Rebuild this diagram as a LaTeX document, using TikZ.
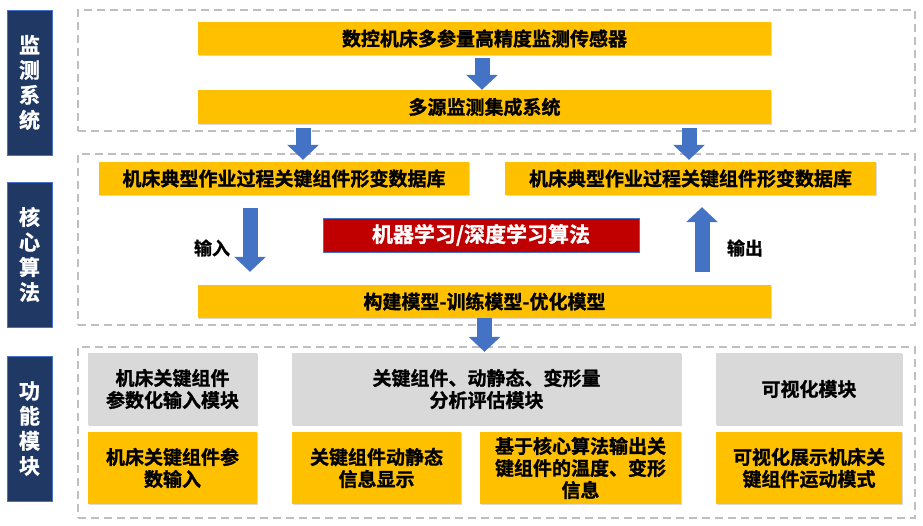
\documentclass[tikz,border=0pt]{standalone}
\usepackage{fontspec}
\setmainfont{Noto Sans CJK SC}[BoldFont={Noto Sans CJK SC Bold},BoldFeatures={FakeBold=1.2}]
\usetikzlibrary{arrows.meta,shadows}
\definecolor{ylw}{HTML}{FFC000}
\definecolor{gry}{HTML}{D9D9D9}
\definecolor{redb}{HTML}{C00000}
\definecolor{navy}{HTML}{203864}
\definecolor{blu}{HTML}{4472C4}
\definecolor{dashc}{HTML}{BFBFBF}
\tikzset{
  shad/.style={drop shadow={opacity=0.25,shadow xshift=1.2pt,shadow yshift=-1.2pt,fill=black!60}},
  ybox/.style={shad,fill=ylw,draw=none,inner sep=0pt,align=center,font=\fontsize{19}{22}\selectfont\bfseries},
  gbox/.style={shad,fill=gry,draw=none,inner sep=0pt,align=center,font=\fontsize{19}{22}\selectfont\bfseries},
  rbox/.style={fill=redb,draw=blu,line width=1pt,inner sep=0pt,text=white,font=\fontsize{21}{24}\selectfont\bfseries},
  bar/.style={fill=navy,draw=blu,line width=0.8pt,inner sep=0pt,text=white,align=center,minimum width=45pt,minimum height=145pt,font=\fontsize{21}{25}\selectfont\bfseries},
  group/.style={draw=dashc,line width=1.5pt,dash pattern=on 8pt off 5pt,inner sep=0pt},
  barrow/.style={draw=blu,line width=15pt,-{Triangle[length=15pt,width=31pt,fill=blu]}},
  lbl/.style={font=\fontsize{18}{20}\selectfont\bfseries,text=black,inner sep=0pt},
}
\begin{document}
\begin{tikzpicture}[x=1pt,y=-1pt]
\useasboundingbox (0,0) rectangle (923,525);
% groups
\node[group,minimum width=837pt,minimum height=121pt] (g1) at (496.5,70.5) {};
\node[group,minimum width=837pt,minimum height=171pt] (g2) at (496.5,239.5) {};
\node[group,minimum width=837pt,minimum height=171pt] (g3) at (496.5,432.5) {};
% side bars
\node[bar] (b1) at (29.5,82.5) {监\\测\\系\\统};
\node[bar] (b2) at (29.5,254.5) {核\\心\\算\\法};
\node[bar] (b3) at (29.5,428.5) {功\\能\\模\\块};
% monitoring
\node[ybox,minimum width=573pt,minimum height=33pt] (sensor) at (484.5,38.5) {数控机床多参量高精度监测传感器};
\node[ybox,minimum width=573pt,minimum height=34pt] (multi) at (484.5,107) {多源监测集成系统};
% core
\node[ybox,minimum width=370pt,minimum height=33pt] (dbl) at (284,178.5) {机床典型作业过程关键组件形变数据库};
\node[ybox,minimum width=371pt,minimum height=33pt] (dbr) at (690.5,178.5) {机床典型作业过程关键组件形变数据库};
\node[rbox,minimum width=316pt,minimum height=34pt] (ml) at (481,235) {机器学习/深度学习算法};
\node[ybox,minimum width=573pt,minimum height=33pt] (model) at (484.5,301.5) {构建模型-训练模型-优化模型};
\node[lbl] (in) at (212,248) {输入};
\node[lbl] (out) at (745,248) {输出};
% function modules
\node[gbox,minimum width=169pt,minimum height=72pt] (m1) at (172.5,389) {机床关键组件\\参数化输入模块};
\node[gbox,minimum width=389pt,minimum height=72pt] (m2) at (486.5,389) {关键组件、动静态、变形量\\分析评估模块};
\node[gbox,minimum width=186pt,minimum height=72pt] (m3) at (809,389) {可视化模块};
\node[ybox,minimum width=169pt,minimum height=72pt] (y1) at (172.5,468) {机床关键组件参\\数输入};
\node[ybox,minimum width=169pt,minimum height=72pt] (y2) at (376.5,468) {关键组件动静态\\信息显示};
\node[ybox,minimum width=201pt,minimum height=72pt] (y3) at (580.5,468) {基于核心算法输出关\\键组件的温度、变形\\信息};
\node[ybox,minimum width=186pt,minimum height=72pt] (y4) at (809,468) {可视化展示机床关\\键组件运动模式};
% arrows
\draw[barrow,shorten <=3pt,shorten >=0pt] ([xshift=-2.5pt]sensor.south) -- ([xshift=-2.5pt]multi.north);
\draw[barrow,shorten <=4pt,shorten >=2pt] ([xshift=19pt]dbl.north |- multi.south) -- ([xshift=19pt]dbl.north);
\draw[barrow,shorten <=4pt,shorten >=2pt] ([xshift=-1.5pt]dbr.north |- multi.south) -- ([xshift=-1.5pt]dbr.north);
\draw[barrow,shorten <=13pt,shorten >=13pt] ([xshift=-34pt]dbl.south) -- ([xshift=-34pt]dbl.south |- model.north);
\draw[barrow,shorten <=13pt,shorten >=12pt] ([xshift=11.5pt]dbr.south |- model.north) -- ([xshift=11.5pt]dbr.south);
\draw[barrow,shorten <=0pt,shorten >=1pt] (model.south) -- (model.south |- m2.north);
\end{tikzpicture}
\end{document}
